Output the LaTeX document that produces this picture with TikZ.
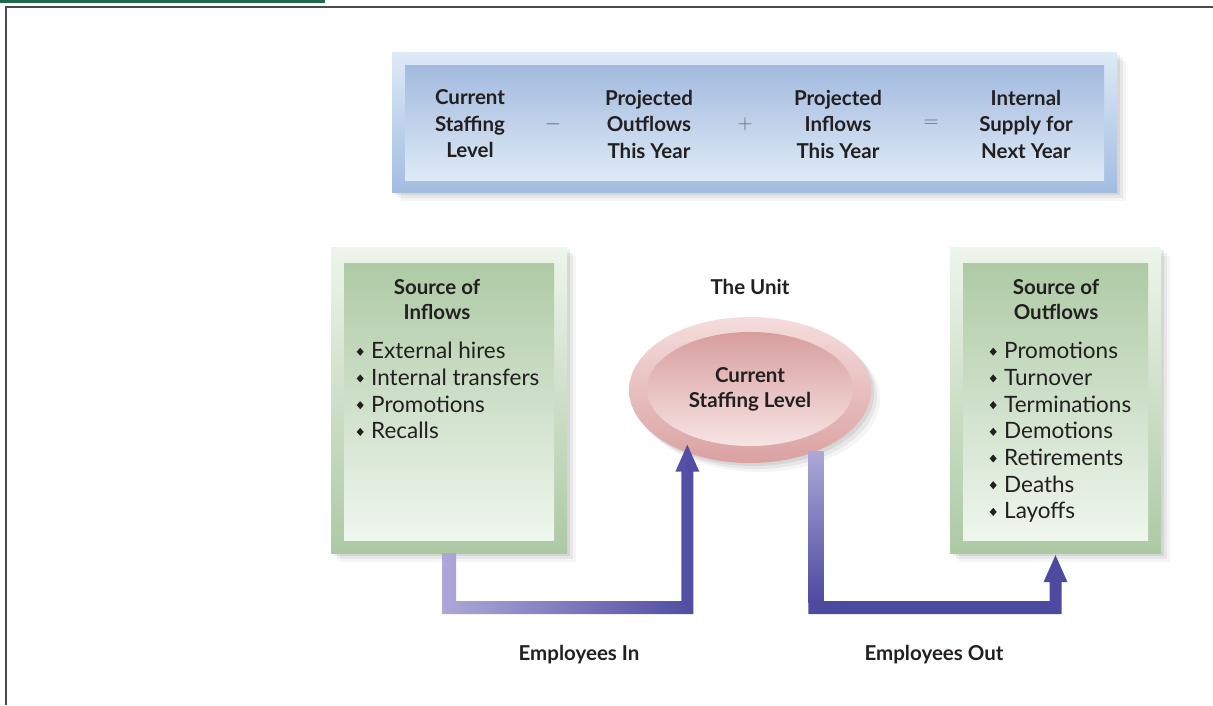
\documentclass[tikz,border=0pt]{standalone}
\usepackage{fontspec}
\setmainfont{Lato}
\usetikzlibrary{calc,shadows,shapes.geometric}
\definecolor{txt}{HTML}{231F20}
\definecolor{frame}{HTML}{4A4A4A}
\definecolor{topgreen}{HTML}{1F6A4D}
\definecolor{bOutT}{HTML}{DDEAF7}
\definecolor{bOutB}{HTML}{A3BCE0}
\definecolor{bInT}{HTML}{A2BADF}
\definecolor{bInB}{HTML}{DEEAF6}
\definecolor{gOutT}{HTML}{EEF5EC}
\definecolor{gOutB}{HTML}{ADC9A4}
\definecolor{gInT}{HTML}{AECAA5}
\definecolor{gInB}{HTML}{EFF6EE}
\definecolor{pOutT}{HTML}{F5DDDD}
\definecolor{pOutB}{HTML}{DBA1A1}
\definecolor{pInT}{HTML}{D89E9E}
\definecolor{pInB}{HTML}{F7E4E4}
\definecolor{arrL}{HTML}{ADA8D7}
\definecolor{arrD}{HTML}{4E4AA0}
\newcommand\dia{\raisebox{3pt}{\tikz\fill[txt,x=1pt,y=1pt] (0,0)--(3.5,4)--(0,8)--(-3.5,4)--cycle;}\hspace{7.5pt}}
\tikzset{
  softshadow/.style={
    drop shadow={shadow xshift=3pt,shadow yshift=-3pt,opacity=.07,fill=black},
    drop shadow={shadow xshift=6pt,shadow yshift=-6pt,opacity=.06,fill=black},
    drop shadow={shadow xshift=9pt,shadow yshift=-9pt,opacity=.04,fill=black}},
  panel/.style={rectangle,draw=none,inner sep=0pt},
  hdr/.style={align=center,text=txt,inner sep=0pt,font=\bfseries\fontsize{20.5}{26.5}\selectfont},
  ttl/.style={align=center,text=txt,inner sep=0pt,font=\bfseries\fontsize{20.5}{25}\selectfont},
  op/.style={text=frame!85,inner sep=0pt,font=\fontsize{20}{20}\selectfont},
  lst/.style={align=left,text=txt,inner sep=0pt,anchor=north west,font=\fontsize{22.5}{26.7}\selectfont},
  lbl/.style={text=txt,inner sep=0pt,font=\bfseries\fontsize{20.5}{24}\selectfont},
}
\begin{document}
\begin{tikzpicture}[x=1pt,y=-1pt]
\useasboundingbox (0,0) rectangle (1213,705);
% page frame
\fill[topgreen] (0,0) rectangle (325,2.6);
\draw[frame,line width=2pt] (6,705) -- (6,7) -- (1213,7);

% equation panel
\node[panel,top color=bOutT,bottom color=bOutB,minimum width=725pt,minimum height=140pt,softshadow] (eqOut) at (754.5,122) {};
\node[panel,top color=bInT,bottom color=bInB,minimum width=699pt,minimum height=115pt] (eqIn) at (754.5,122.5) {};
\node[hdr] (h1) at (470,124) {Current\\Staffing\\Level};
\node[op]  (o1) at (553,124) {$-$};
\node[hdr] (h2) at (649,124) {Projected\\Outflows\\This Year};
\node[op]  (o2) at (745,124) {$+$};
\node[hdr] (h3) at (838,124) {Projected\\Inflows\\This Year};
\node[op]  (o3) at (931,124) {$=$};
\node[hdr] (h4) at (1026,124) {Internal\\Supply for\\Next Year};

% inflow box
\node[panel,top color=gOutT,bottom color=gOutB,minimum width=236pt,minimum height=306pt,softshadow] (srcIn) at (449,400) {};
\node[panel,top color=gInT,bottom color=gInB,minimum width=210pt,minimum height=277pt] (srcInI) at (449,401.5) {};
\node[ttl] (tIn) at (437,299.5) {Source of\\Inflows};
\node[lst] (lIn) at (356.5,342) {\dia External hires\\\dia Internal transfers\\\dia Promotions\\\dia Recalls};

% outflow box
\node[panel,top color=gOutT,bottom color=gOutB,minimum width=211pt,minimum height=306pt,softshadow] (srcOut) at (1055.5,400) {};
\node[panel,top color=gInT,bottom color=gInB,minimum width=185pt,minimum height=277pt] (srcOutI) at (1055.5,401.5) {};
\node[ttl] (tOut) at (1056,299.5) {Source of\\Outflows};
\node[lst] (lOut) at (989.5,342) {\dia Promotions\\\dia Turnover\\\dia Terminations\\\dia Demotions\\\dia Retirements\\\dia Deaths\\\dia Layoffs};

% the unit
\node[hdr] (unit) at (750,287) {The Unit};
\node[ellipse,draw=none,top color=pOutT,bottom color=pOutB,minimum width=242pt,minimum height=146pt,inner sep=0pt,softshadow] (ell) at (750,390) {};
\node[ellipse,draw=none,top color=pInT,bottom color=pInB,minimum width=206pt,minimum height=114pt,inner sep=0pt] (ellIn) at (750,389) {};
\node[ttl] (cur) at (750,389.5) {Current\\Staffing Level};

% connectors
\coordinate (yb) at (0,614);
\coordinate (inS) at (srcIn.south);
\coordinate (inE) at ($(ell.225)+(0,-8)$);
\coordinate (inSB) at (inS |- yb);
\coordinate (inEB) at (inE |- yb);
\shade[left color=arrL,right color=arrD]
  ($(inS)+(-7,0)$) -- ($(inSB)+(-7,0)$) -- ($(inEB)+(6,0)$) -- ($(inE)+(6,27)$)
  -- ($(inE)+(12,27)$) -- (inE) -- ($(inE)+(-12,27)$) -- ($(inE)+(-6,27)$)
  -- ($(inEB)+(-6,-13)$) -- ($(inSB)+(7,-13)$) -- ($(inS)+(7,0)$) -- cycle;

\coordinate (outS) at (ell.317);
\coordinate (outE) at ($(srcOut.south)+(0,2)$);
\coordinate (outSB) at (outS |- yb);
\coordinate (outEB) at (outE |- yb);
\shade[top color=arrL,bottom color=arrD] ($(outS)+(-7.5,0)$) rectangle ($(outSB)+(7.5,-12)$);
\fill[arrD] ($(outSB)+(-7.5,-13)$) -- ($(outSB)+(-7.5,0)$) -- ($(outEB)+(6,0)$) -- ($(outE)+(6,27)$)
  -- ($(outE)+(12,27)$) -- (outE) -- ($(outE)+(-12,27)$) -- ($(outE)+(-6,27)$)
  -- ($(outEB)+(-6,-13)$) -- cycle;

\node[lbl] (empIn) at (579,655) {Employees In};
\node[lbl] (empOut) at (934,655) {Employees Out};
\end{tikzpicture}
\end{document}
